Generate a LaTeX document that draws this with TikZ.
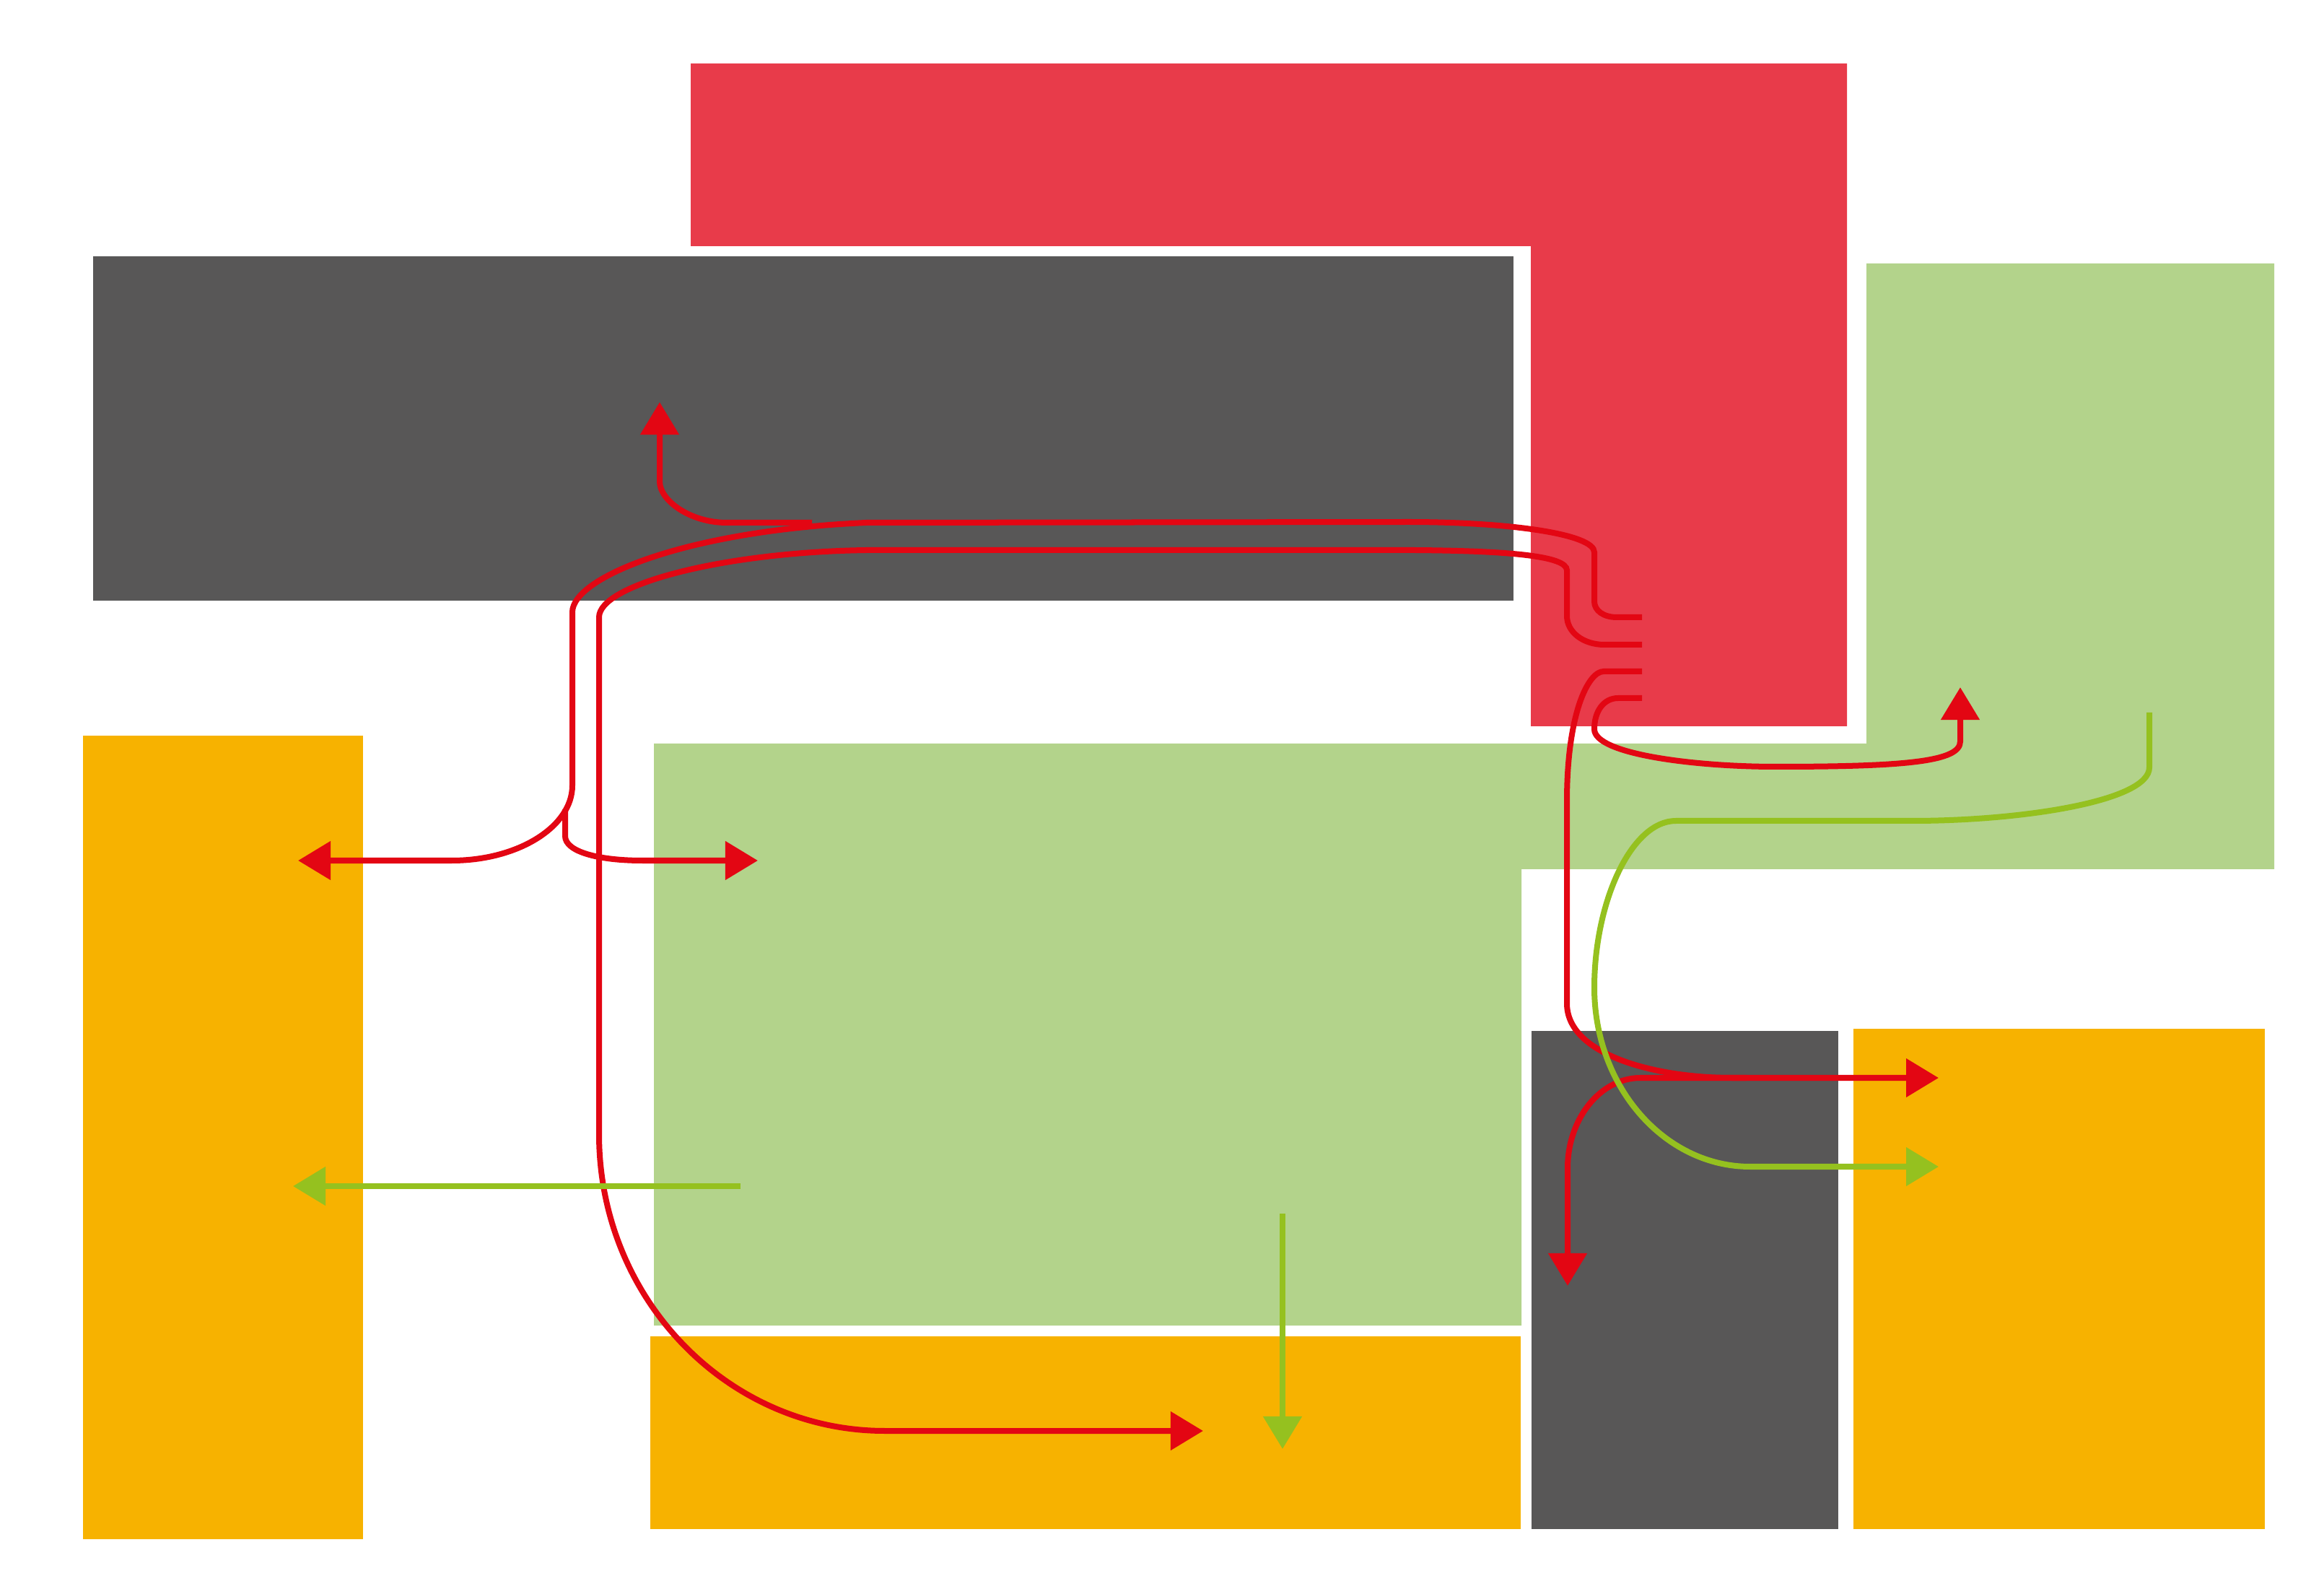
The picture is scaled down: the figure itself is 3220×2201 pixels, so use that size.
\documentclass[tikz,border=0pt]{standalone}
\usetikzlibrary{arrows.meta}
\definecolor{redfill}{RGB}{232,59,74}
\definecolor{darkbox}{RGB}{88,87,87}
\definecolor{greenfill}{RGB}{179,211,139}
\definecolor{orangefill}{RGB}{247,178,0}
\definecolor{redline}{RGB}{227,6,19}
\definecolor{greenline}{RGB}{149,193,31}
\tikzset{
  flowred/.style={draw=redline,line width=0.08cm},
  flowgreen/.style={draw=greenline,line width=0.08cm},
  tip/.style={-{Triangle[length=0.45cm,width=0.52cm]}}
}
\begin{document}
\begin{tikzpicture}[x=0.01cm,y=-0.01cm]
\useasboundingbox (0,0) rectangle (3220,2201);
\fill[white] (0,0) rectangle (3220,2201);
% blocks
\fill[redfill] (957,88) -- (2559,88) -- (2559,1006) -- (2121,1006) -- (2121,341) -- (957,341) -- cycle;
\fill[darkbox] (129,355) rectangle (2097,832);
\fill[greenfill] (906,1030) -- (2586,1030) -- (2586,365) -- (3151,365) -- (3151,1204) -- (2108,1204) -- (2108,1836) -- (906,1836) -- cycle;
\fill[orangefill] (115,1019) rectangle (503,2132);
\fill[orangefill] (901,1851) rectangle (2107,2118);
\fill[darkbox] (2122,1428) rectangle (2547,2118);
\fill[orangefill] (2568,1425) rectangle (3138,2118);
% endpoints
\coordinate (sA) at (2275,855);
\coordinate (sB) at (2275,893);
\coordinate (sC) at (2275,930);
\coordinate (sD) at (2275,967);
\coordinate (eA) at (413,1192);
\coordinate (eA2) at (1050,1192);
\coordinate (eB) at (1667,1982);
\coordinate (eC) at (2686,1493);
\coordinate (eF) at (2172,1781);
\coordinate (eD) at (2716,952);
\coordinate (eE) at (914,557);
\coordinate (sG) at (1026,1643);
\coordinate (eG) at (406,1643);
\coordinate (sH) at (1777,1681);
\coordinate (eH) at (1777,2007);
\coordinate (sI) at (2978,987);
\coordinate (eI) at (2686,1616);
% red flows
\draw[flowred,tip] (sA) -- (2240,855) .. controls (2222,855) and (2209,846) .. (2209,833)
  -- (2209,765) .. controls (2209,740) and (2093,723) .. (1950,723)
  -- (1200,724) .. controls (950,735) and (793,800) .. (793,848)
  -- (793,1088) .. controls (793,1145) and (718,1192) .. (626,1192) -- (eA);
\draw[flowred,tip] (783,1121) -- (783,1158) .. controls (783,1180) and (830,1192) .. (890,1192) -- (eA2);
\draw[flowred,tip] (1125,724) -- (1007,724) .. controls (956,724) and (914,693) .. (914,667) -- (eE);
\draw[flowred,tip] (sB) -- (2223,893) .. controls (2194,893) and (2171,876) .. (2171,853)
  -- (2171,790) .. controls (2171,770) and (2090,763) .. (1960,762)
  -- (1200,762) .. controls (1000,765) and (830,810) .. (830,855)
  -- (830,1571) .. controls (830,1798) and (1007,1982) .. (1226,1982) -- (eB);
\draw[flowred,tip] (sC) -- (2222,930) .. controls (2200,930) and (2171,990) .. (2171,1110)
  -- (2171,1390) .. controls (2171,1460) and (2290,1493) .. (2400,1493) -- (eC);
\draw[flowred,tip] (2420,1493) -- (2273,1493) .. controls (2217,1493) and (2172,1550) .. (2172,1618) -- (eF);
\draw[flowred,tip] (sD) -- (2242,967) .. controls (2222,967) and (2209,985) .. (2209,1010)
  .. controls (2209,1045) and (2350,1062) .. (2460,1062)
  .. controls (2640,1062) and (2716,1055) .. (2716,1027) -- (eD);
% green flows
\draw[flowgreen,tip] (sG) -- (eG);
\draw[flowgreen,tip] (sH) -- (eH);
\draw[flowgreen,tip] (sI) -- (2978,1063) .. controls (2978,1110) and (2800,1137) .. (2650,1137)
  -- (2322,1137) .. controls (2260,1137) and (2209,1250) .. (2209,1368)
  .. controls (2209,1505) and (2306,1616) .. (2425,1616) -- (eI);
\end{tikzpicture}
\end{document}
